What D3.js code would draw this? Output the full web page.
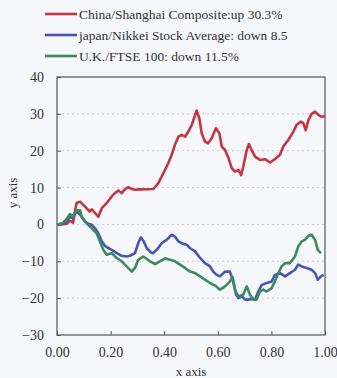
<!DOCTYPE html>
<html>
<head>
<meta charset="utf-8">
<script src="https://cdn.jsdelivr.net/npm/d3@7"></script>
<style>
  body { margin: 0; background: #f6f7fa; }
  text { font-family: "Liberation Serif", "Times New Roman", serif; fill: #333; }
</style>
</head>
<body>
<div id="chart"></div>
<script>
const seriesNames = [
    "China/Shanghai Composite:up 30.3%",
    "japan/Nikkei Stock Average: down 8.5",
    "U.K./FTSE 100: down 11.5%"
];
const seriesColors = ["#c4363f", "#4656b8", "#3d8a5c"];

const xTicks = [0, 0.2, 0.4, 0.6, 0.8, 1.0];
const yTicks = [-30, -20, -10, 0, 10, 20, 30, 40];

const china = [[0,0],[0.02,0],[0.036,0.2],[0.048,1],[0.06,0.5],[0.073,5.8],[0.086,6.2],[0.098,5.3],[0.11,4.4],[0.122,3.5],[0.13,4.1],[0.142,3.1],[0.154,2.1],[0.167,4.4],[0.179,5.3],[0.19,6.2],[0.204,7.6],[0.216,8.5],[0.229,9.2],[0.241,8.5],[0.254,9.6],[0.266,10.1],[0.279,9.6],[0.291,9.4],[0.31,9.5],[0.36,9.6],[0.378,11.2],[0.397,13.9],[0.415,16.6],[0.428,18.9],[0.44,21.6],[0.453,23.8],[0.465,24.3],[0.478,23.8],[0.49,25.2],[0.503,27],[0.511,28.8],[0.521,30.9],[0.531,28.8],[0.54,24.7],[0.552,22.5],[0.564,22],[0.577,23.4],[0.593,26.1],[0.606,24.7],[0.615,21.1],[0.627,20.2],[0.64,18],[0.652,15.3],[0.664,14.3],[0.677,14.8],[0.687,13.4],[0.695,15.7],[0.708,20.2],[0.716,21.8],[0.726,20.2],[0.739,18.4],[0.757,17.5],[0.776,17.7],[0.795,16.8],[0.813,17.7],[0.832,18.9],[0.844,21.1],[0.863,22.9],[0.882,25.2],[0.894,27],[0.91,27.9],[0.919,27.5],[0.928,25.6],[0.938,28.3],[0.95,30],[0.963,30.6],[0.975,29.7],[0.988,29.2],[1.0,29.4]];

const japan = [[0,0],[0.02,0.2],[0.036,0.8],[0.048,2.1],[0.058,1.7],[0.07,3.5],[0.08,3.1],[0.092,2.1],[0.104,0.8],[0.117,0.2],[0.129,-0.1],[0.142,-1],[0.154,-2.4],[0.167,-4.6],[0.179,-5.8],[0.191,-6.4],[0.204,-6.9],[0.223,-7.8],[0.241,-8.5],[0.26,-8.7],[0.272,-8.5],[0.291,-7.8],[0.303,-5.1],[0.313,-3.5],[0.322,-4.4],[0.335,-6.4],[0.35,-7.6],[0.359,-7.8],[0.378,-6.4],[0.39,-5.1],[0.409,-4.2],[0.428,-2.8],[0.44,-3.3],[0.453,-4.6],[0.465,-5.1],[0.484,-5.5],[0.496,-6.4],[0.515,-7.3],[0.534,-9.1],[0.552,-10.5],[0.571,-11.4],[0.583,-12.8],[0.596,-13.7],[0.608,-14.1],[0.627,-12.8],[0.645,-12.8],[0.656,-15],[0.668,-19],[0.677,-20],[0.69,-19.5],[0.702,-20.4],[0.714,-20.4],[0.726,-20.2],[0.739,-20.4],[0.751,-18.2],[0.764,-16.4],[0.782,-15.9],[0.801,-15.5],[0.813,-13.7],[0.832,-13.2],[0.851,-14.1],[0.869,-13.2],[0.888,-12.3],[0.9,-10.9],[0.913,-11.4],[0.932,-11.8],[0.95,-12.3],[0.963,-13.2],[0.973,-15],[0.985,-14.1],[0.995,-13.7]];

const uk = [[0,0],[0.02,0.3],[0.036,1.5],[0.048,2.8],[0.06,2.2],[0.07,3.8],[0.086,3.8],[0.092,2.1],[0.11,0.3],[0.129,-1],[0.148,-2.4],[0.16,-4.6],[0.173,-6.9],[0.185,-8.2],[0.204,-7.8],[0.223,-9.1],[0.241,-10],[0.26,-11.4],[0.279,-12.8],[0.291,-11.8],[0.303,-9.6],[0.322,-8.7],[0.347,-10],[0.366,-10.8],[0.384,-10],[0.403,-9.2],[0.422,-9.6],[0.44,-10],[0.459,-10.9],[0.478,-11.8],[0.496,-12.8],[0.515,-13.2],[0.534,-14.1],[0.552,-15],[0.571,-15.9],[0.59,-16.6],[0.608,-17.7],[0.627,-16.8],[0.645,-15.5],[0.655,-14.3],[0.666,-18.2],[0.677,-19.5],[0.695,-19.1],[0.708,-16.8],[0.72,-19.1],[0.733,-20.4],[0.745,-20.4],[0.757,-18.2],[0.77,-17.7],[0.782,-18.2],[0.801,-17.3],[0.813,-15.5],[0.826,-13.2],[0.838,-11.4],[0.851,-10.5],[0.869,-10.5],[0.888,-8.7],[0.9,-6],[0.913,-4.6],[0.925,-4.2],[0.938,-3.1],[0.95,-2.8],[0.963,-4.2],[0.973,-6.9],[0.985,-7.8]];

const allSeries = [china, japan, uk];

const margin = { top: 77, right: 12, bottom: 43, left: 57 },
      width = 337 - margin.left - margin.right,
      height = 378 - margin.top - margin.bottom;

const svg = d3.select("#chart").append("svg")
    .attr("width", 337)
    .attr("height", 378);

svg.append("rect").attr("width", 337).attr("height", 378).attr("fill", "#f6f7fa");

const g = svg.append("g")
    .attr("transform", `translate(${margin.left},${margin.top})`);

const x = d3.scaleLinear().domain([0, 1]).range([0, width]);
const y = d3.scaleLinear().domain([-30, 40]).range([height, 0]);

// dotted grid
g.append("g")
    .selectAll("line")
    .data(yTicks.filter(d => d > -30 && d < 40))
    .enter().append("line")
    .attr("x1", 0).attr("x2", width)
    .attr("y1", d => y(d)).attr("y2", d => y(d))
    .attr("stroke", "#c9ccd4")
    .attr("stroke-width", 1)
    .attr("stroke-dasharray", "2,3");

// frame
g.append("rect")
    .attr("width", width).attr("height", height)
    .attr("fill", "none").attr("stroke", "#555").attr("stroke-width", 1.2);

const xAxis = g.append("g")
    .attr("transform", `translate(0,${height})`)
    .call(d3.axisBottom(x).tickValues(xTicks).tickSize(-4).tickPadding(12).tickFormat(d3.format(".2f")));
const yAxis = g.append("g")
    .call(d3.axisLeft(y).tickValues(yTicks).tickSize(-4).tickPadding(13).tickFormat(d3.format("d")));

[xAxis, yAxis].forEach(a => {
    a.select(".domain").remove();
    a.selectAll(".tick line").attr("stroke", "#555");
    a.selectAll("text").style("font-size", "14px").attr("fill", "#333")
        .style("font-family", '"Liberation Serif", serif');
});

const line = d3.line()
    .x(d => x(d[0]))
    .y(d => y(d[1]));

g.selectAll(".series")
    .data(allSeries)
    .enter().append("path")
    .attr("class", "series")
    .attr("fill", "none")
    .attr("stroke", (d, i) => seriesColors[i])
    .attr("stroke-width", 2.6)
    .attr("stroke-linejoin", "round")
    .attr("d", d => line(d));

g.append("text")
    .attr("x", width / 2)
    .attr("y", height + 41)
    .attr("text-anchor", "middle")
    .style("font-size", "13px")
    .text("x axis");

svg.append("text")
    .attr("transform", "translate(17,193) rotate(-90)")
    .attr("text-anchor", "middle")
    .style("font-size", "13px")
    .text("y axis");

const legend = svg.append("g").attr("transform", "translate(45,14)");
seriesNames.forEach((name, i) => {
    const row = legend.append("g").attr("transform", `translate(0,${i * 21})`);
    row.append("line")
        .attr("x1", 0).attr("x2", 32)
        .attr("stroke", seriesColors[i]).attr("stroke-width", 2.6);
    row.append("text")
        .attr("x", 34).attr("y", 0).attr("dy", "0.35em")
        .style("font-size", "13.5px")
        .text(name);
});
</script>
</body>
</html>
